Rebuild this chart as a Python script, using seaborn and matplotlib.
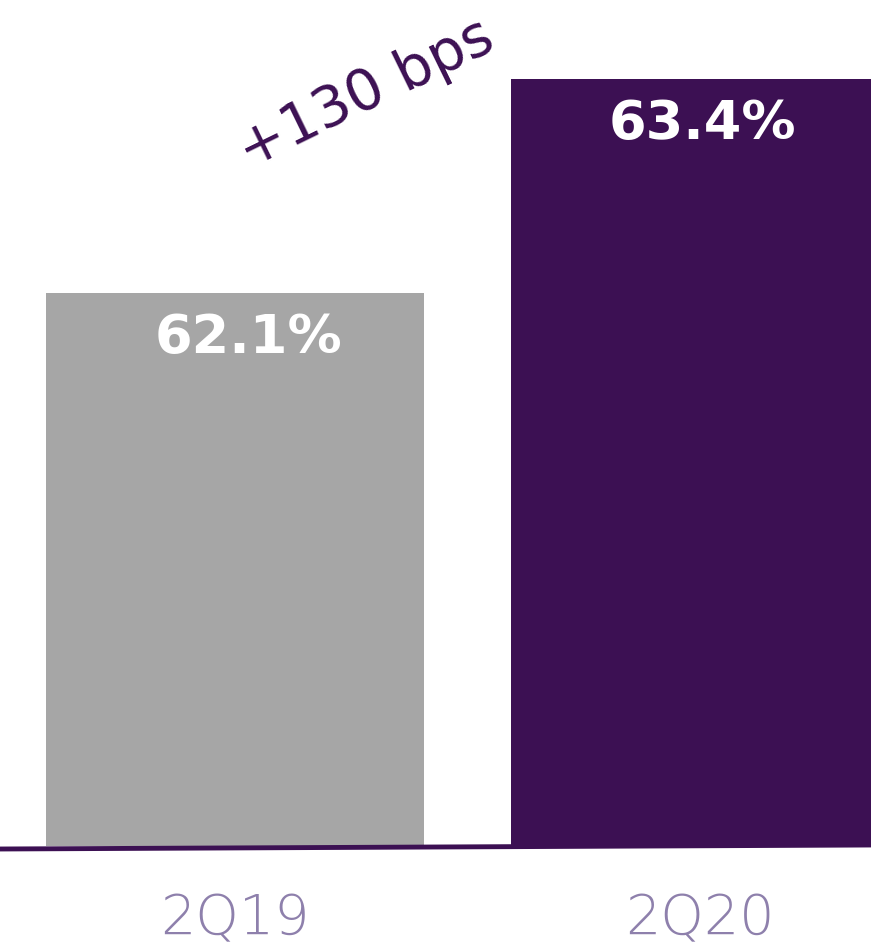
import matplotlib
matplotlib.use("Agg")
import matplotlib.pyplot as plt
import seaborn as sns
import pandas as pd
from matplotlib.lines import Line2D

periods = ["2Q19", "2Q20"]
margins = [62.1, 63.4]
bar_colors = ["#A6A6A6", "#3C1053"]
change_label = "+130 bps"

PURPLE = "#3C1053"
TICK_COLOR = "#8E80AC"

sns.set_theme(style="white")
plt.rcParams["font.family"] = ["DejaVu Sans"]

W, H, DPI = 871, 949, 100
fig = plt.figure(figsize=(W / DPI, H / DPI), dpi=DPI)

base_px = 846
ax = fig.add_axes([0, (H - base_px) / H, 1, base_px / H])

df = pd.DataFrame({"period": periods, "margin": margins})
sns.barplot(data=df, x="period", y="margin", hue="period", palette=bar_colors,
            width=0.813, legend=False, ax=ax, saturation=1, linewidth=0)

ax.set_ylim(58.74, 63.88)
ax.set_xlim(-0.505, 1.368)
ax.set_xlabel("")
ax.set_ylabel("")
ax.set_yticks([])
ax.set_xticks([])
for s in ax.spines.values():
    s.set_visible(False)

# value labels inside bars
label_dx = [10, 2]
for i, v in enumerate(margins):
    ax.annotate(f"{v:.1f}%", xy=(i, v), xytext=(label_dx[i], -14), textcoords="offset points",
                ha="center", va="top", color="white", fontsize=39, fontweight="bold")

# period labels under the baseline
for i, p in enumerate(periods):
    ax.annotate(p, xy=(i, 58.74), xytext=(0, -33), textcoords="offset points",
                ha="center", va="top", color=TICK_COLOR, fontsize=40, fontweight="light",
                annotation_clip=False)

# baseline rule
fig.add_artist(Line2D([0, 1], [(H - 849) / H, (H - 845) / H], color=PURPLE, lw=3.5,
                      transform=fig.transFigure))

# change annotation
fig.text(366 / W, (H - 95) / H, change_label, rotation=26, rotation_mode="anchor",
         ha="center", va="center", color=PURPLE, fontsize=41, fontweight="normal")

fig.savefig("out.png", dpi=DPI)
